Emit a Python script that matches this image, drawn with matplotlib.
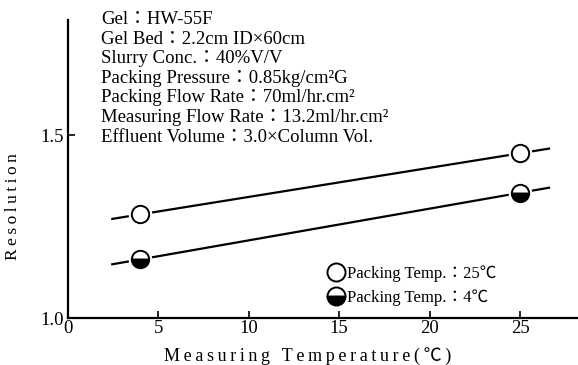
import matplotlib.pyplot as plt
from matplotlib.lines import Line2D

plt.rcParams['font.family'] = ['Liberation Serif', 'Noto Sans CJK JP', 'DejaVu Sans']

# resolution vs measuring temperature for two packing temperatures
temps = [4, 25]
res_25 = [1.284, 1.451]
res_4 = [1.161, 1.343]
fit_range = [2.45, 26.6]

conditions = [
    'Gel：HW-55F',
    'Gel Bed：2.2cm ID×60cm',
    'Slurry Conc.：40%V/V',
    'Packing Pressure：0.85kg/cm²G',
    'Packing Flow Rate：70ml/hr.cm²',
    'Measuring Flow Rate：13.2ml/hr.cm²',
    'Effluent Volume：3.0×Column Vol.',
]


def spaced(s):
    # loose letter spacing with thin spaces
    return '\u2009'.join(s)


fig = plt.figure(figsize=(5.78, 3.65), dpi=100)
ax = fig.add_axes([0.1176, 0.128, 0.8824, 0.817])


def fit_line(xs, ys):
    k = (ys[1] - ys[0]) / (xs[1] - xs[0])
    return [ys[0] + k * (x - xs[0]) for x in fit_range]


ax.plot(fit_range, fit_line(temps, res_25), color='black', lw=1.6, zorder=2)
ax.plot(fit_range, fit_line(temps, res_4), color='black', lw=1.6, zorder=2)

# white ring so the line breaks around each marker
for ys in (res_25, res_4):
    ax.plot(temps, ys, 'o', ms=17, color='white', mec='none', zorder=3)
ax.plot(temps, res_25, 'o', ms=12.5, mfc='white', mec='black', mew=1.4, zorder=4)
ax.plot(temps, res_4, 'o', ms=12.5, fillstyle='bottom', mfc='black',
        mfcalt='white', mec='black', mew=1.4, zorder=4)

ax.set_xlim(0, 28.2)
ax.set_ylim(1.0, 1.815)
ax.set_xticks([0, 5, 10, 15, 20, 25])
ax.set_yticks([1.0, 1.5])
ax.set_yticklabels(['1.0', '1.5'])
ax.tick_params(direction='in', length=5, width=1.2, labelsize=13.5, pad=1)
ax.tick_params(axis='y', pad=3)
for s in ('top', 'right'):
    ax.spines[s].set_visible(False)
for s in ('left', 'bottom'):
    ax.spines[s].set_linewidth(1.6)

ax.set_xlabel(spaced('Measuring Temperature(℃)'), fontsize=13, labelpad=1)
ax.xaxis.set_label_coords(0.47, -0.095)
ax.set_ylabel(spaced('Resolution'), fontsize=12.5)
ax.yaxis.set_label_coords(-0.092, 0.373)

fig.text(0.175, 0.97, '\n'.join(conditions), va='top', ha='left',
         fontsize=13.5, linespacing=1.2)

handles = [
    Line2D([], [], ls='none', marker='o', ms=13, mfc='white', mec='black', mew=1.4),
    Line2D([], [], ls='none', marker='o', ms=13, fillstyle='bottom', mfc='black',
           mfcalt='white', mec='black', mew=1.4),
]
ax.legend(handles, ['Packing Temp.：25℃', 'Packing Temp.：4℃'], loc='lower right',
          bbox_to_anchor=(0.87, -0.01), frameon=False, fontsize=12,
          handletextpad=0.2, handlelength=1.0, labelspacing=0.45)

fig.savefig('out.png', dpi=100)
